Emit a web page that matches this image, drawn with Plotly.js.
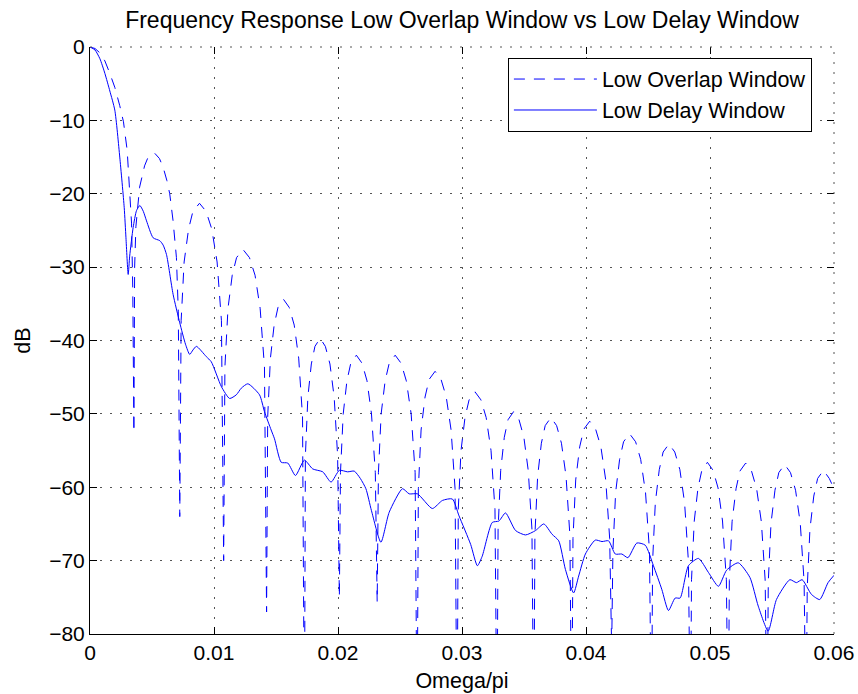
<!DOCTYPE html>
<html>
<head>
<meta charset="utf-8">
<script src="https://cdn.plot.ly/plotly-3.0.1.min.js"></script>
<style>html,body{margin:0;padding:0;background:#fff;}#chart{width:858px;height:694px;}</style>
</head>
<body>
<div id="chart"></div>
<script>
// ---- data ----
const chartTitle = "Frequency Response Low Overlap Window vs Low Delay Window";
const xAxisTitle = "Omega/pi";
const yAxisTitle = "dB";
const seriesNames = ["Low Overlap Window", "Low Delay Window"];
const xTickVals = [0, 0.01, 0.02, 0.03, 0.04, 0.05, 0.06];
const yTickVals = [0, -10, -20, -30, -40, -50, -60, -70, -80];

// Low Overlap Window (dashed)
const overlapX = [
  0, 0.0004, 0.0008, 0.0012, 0.0016, 0.0020, 0.0024, 0.0027, 0.0030, 0.0032, 0.00335, 0.00345, 0.00354,
  0.00360, 0.00370, 0.00400, 0.00440, 0.00469, 0.00523, 0.00560, 0.00590, 0.00620, 0.00643, 0.00670, 0.00697, 0.00712, 0.00724,
  0.00735, 0.00759, 0.00795, 0.00830, 0.00883, 0.00936, 0.00982, 0.01025, 0.01060, 0.01078,
  0.01088, 0.01113, 0.01147, 0.01182, 0.01234, 0.01286, 0.01331, 0.01372, 0.01407, 0.01424,
  0.01433, 0.01455, 0.01485, 0.01516, 0.01561, 0.01607, 0.01647, 0.01683, 0.01714, 0.01729,
  0.01737, 0.01757, 0.01785, 0.01814, 0.01856, 0.01898, 0.01935, 0.01969, 0.01997, 0.02011,
  0.02020, 0.02042, 0.02072, 0.02103, 0.02148, 0.02194, 0.02234, 0.02270, 0.02301, 0.02316,
  0.02326, 0.02348, 0.02380, 0.02413, 0.02461, 0.02509, 0.02551, 0.02590, 0.02622, 0.02638,
  0.02648, 0.02670, 0.02702, 0.02735, 0.02783, 0.02831, 0.02873, 0.02912, 0.02944, 0.02960,
  0.02970, 0.02992, 0.03024, 0.03057, 0.03105, 0.03153, 0.03195, 0.03234, 0.03266, 0.03282,
  0.03291, 0.03312, 0.03341, 0.03371, 0.03416, 0.03460, 0.03499, 0.03534, 0.03564, 0.03579,
  0.03588, 0.03610, 0.03640, 0.03671, 0.03717, 0.03763, 0.03802, 0.03839, 0.03870, 0.03885,
  0.03895, 0.03917, 0.03949, 0.03982, 0.04030, 0.04078, 0.04120, 0.04159, 0.04191, 0.04207,
  0.04217, 0.04239, 0.04271, 0.04303, 0.04351, 0.04400, 0.04441, 0.04480, 0.04512, 0.04528,
  0.04537, 0.04559, 0.04591, 0.04622, 0.04669, 0.04716, 0.04757, 0.04795, 0.04826, 0.04842,
  0.04851, 0.04873, 0.04903, 0.04934, 0.04979, 0.05025, 0.05065, 0.05101, 0.05132, 0.05147,
  0.05156, 0.05178, 0.05210, 0.05241, 0.05288, 0.05335, 0.05376, 0.05414, 0.05445, 0.05461,
  0.05470, 0.05492, 0.05524, 0.05555, 0.05602, 0.05649, 0.05690, 0.05728, 0.05759, 0.05775,
  0.05784, 0.05806, 0.05837, 0.05868, 0.05915, 0.05962, 0.06000
];
const overlapY = [
  0, -0.2, -0.8, -1.9, -3.6, -5.5, -8.0, -10.2, -14.1, -20, -24, -33, -52.5,
  -30, -24.5, -19.1, -16.2, -15.0, -14.5, -15.2, -16.4, -18.2, -20, -23.7, -28.7, -36, -64,
  -37.3, -29.3, -24.8, -22.4, -21.3, -22.4, -24.8, -29.3, -37.3, -70,
  -43.6, -35.6, -31.1, -28.7, -27.6, -28.7, -31.1, -35.6, -43.6, -77,
  -50.4, -42.4, -37.9, -35.5, -34.4, -35.5, -37.9, -42.4, -50.4, -95,
  -55.7, -47.7, -43.2, -40.8, -39.7, -40.8, -43.2, -47.7, -55.7, -75,
  -58, -50, -45.5, -43.1, -42, -43.1, -45.5, -50, -58, -75.7,
  -58, -50, -45.5, -43.1, -42, -43.1, -45.5, -50, -58, -95,
  -60.2, -52.2, -47.7, -45.3, -44.2, -45.3, -47.7, -52.2, -60.2, -95,
  -63, -55, -50.5, -48.1, -47, -48.1, -50.5, -55, -63, -95,
  -65.7, -57.7, -53.2, -50.8, -49.7, -50.8, -53.2, -57.7, -65.7, -95,
  -66.5, -58.5, -54, -51.6, -50.5, -51.6, -54, -58.5, -66.5, -95,
  -67, -59, -54.5, -52.1, -51, -52.1, -54.5, -59, -67, -82,
  -68.7, -60.7, -56.2, -53.8, -52.7, -53.8, -56.2, -60.7, -68.7, -95,
  -70.1, -62.1, -57.6, -55.2, -54.1, -55.2, -57.6, -62.1, -70.1, -95,
  -72.6, -64.6, -60.1, -57.7, -56.6, -57.7, -60.1, -64.6, -72.6, -95,
  -72.7, -64.7, -60.2, -57.8, -56.7, -57.8, -60.2, -64.7, -72.7, -95,
  -72.9, -64.9, -60.4, -58, -56.9, -58, -60.4, -64.9, -72.9, -95,
  -73.7, -65.7, -61.2, -58.8, -57.7, -58.8, -60.2
];

// Low Delay Window (solid)
const delayX = [
  0, 0.0004, 0.0008, 0.0012, 0.0016, 0.0020, 0.0024, 0.00276, 0.0029, 0.00308, 0.0032, 0.00348, 0.00375,
  0.00402, 0.0043, 0.00456, 0.00509, 0.00563, 0.0059, 0.00617, 0.0067, 0.00724, 0.0077, 0.00804, 0.0083,
  0.00858, 0.00938, 0.00978, 0.0106, 0.01126, 0.0118, 0.0122, 0.01273, 0.01367, 0.01407, 0.01461, 0.01488,
  0.01542, 0.01595, 0.01657, 0.01729, 0.01796, 0.01877, 0.01944, 0.02011, 0.02078, 0.02131, 0.0218, 0.02225,
  0.0227, 0.02346, 0.02413, 0.0252, 0.02574, 0.02641, 0.02761, 0.02842, 0.02922, 0.02976, 0.0307, 0.03124,
  0.03163, 0.03244, 0.03298, 0.03351, 0.03432, 0.03512, 0.03593, 0.0366, 0.03726, 0.0378, 0.03834, 0.039,
  0.03941, 0.03995, 0.04075, 0.04129, 0.04182, 0.04236, 0.04289, 0.04338, 0.0441, 0.04478, 0.04544, 0.04611,
  0.04665, 0.04719, 0.04759, 0.04826, 0.04907, 0.04987, 0.05068, 0.05134, 0.05228, 0.05322, 0.05389, 0.05469,
  0.05536, 0.05644, 0.05697, 0.05743, 0.05818, 0.05885, 0.05952, 0.06
];
const delayY = [
  0, -0.4, -1.6, -3.6, -6.0, -8.6, -15.0, -21.9, -26, -31, -28.5, -24.6, -22.3,
  -21.6, -22.4, -23.7, -26.0, -26.4, -27.0, -28.3, -33.7, -37.6, -40.5, -41.9, -41.3,
  -40.8, -42.2, -42.9, -46.3, -47.9, -47.4, -46.5, -45.9, -47.4, -49.7, -52.2, -53.4,
  -56.6, -56.7, -58.4, -56.3, -57.5, -57.9, -59.3, -57.7, -57.9, -57.8, -58.8, -60.2,
  -63.2, -67.5, -63.4, -60.2, -60.9, -60.9, -62.9, -61.8, -61.6, -63.9, -67.8, -70.7,
  -69.4, -64.8, -64.6, -63.5, -65.9, -66.5, -65.9, -65.0, -66.4, -67.3, -71.2, -74.4,
  -72.1, -69.1, -67.2, -67.4, -67.3, -69.1, -69.1, -69.6, -67.6, -67.9, -70.7, -73.9,
  -76.8, -75.1, -75.1, -70.7, -69.7, -71.6, -73.5, -71.3, -70.3, -72.3, -76.2, -79.6,
  -75.3, -72.6, -73.0, -72.6, -74.6, -75.3, -73.0, -72.0
];

// ---- chart ----
const FONT = "Liberation Sans, Arial, Helvetica, sans-serif";
const BLUE = "#0000ff";
const GRID_DASH = "2px,8px";
const GRID_COLOR = "#555";

const traces = [
  {
    x: overlapX, y: overlapY, name: seriesNames[0], type: "scatter", mode: "lines",
    line: {color: BLUE, width: 1, dash: "11px,9px", shape: "linear"}
  },
  {
    x: delayX, y: delayY, name: seriesNames[1], type: "scatter", mode: "lines",
    line: {color: BLUE, width: 1, shape: "spline", smoothing: 0.6}
  },
  {
    x: [], y: [], xaxis: "x2", yaxis: "y2", showlegend: false, hoverinfo: "skip", type: "scatter", mode: "lines"
  }
];

const layout = {
  width: 858, height: 694,
  margin: {l: 89.5, r: 23.5, t: 47, b: 59.5, pad: 0},
  paper_bgcolor: "#fff", plot_bgcolor: "#fff",
  font: {family: FONT, color: "#000", size: 21},
  showlegend: true,
  title: {text: chartTitle, font: {family: FONT, size: 23, color: "#000"},
          x: 0.5, xref: "paper", xanchor: "center", y: 0.971, yanchor: "middle"},
  xaxis: {
    range: [0, 0.06], tickvals: xTickVals, ticktext: xTickVals.map(String),
    showline: true, linecolor: "#000", linewidth: 1, mirror: false,
    ticks: "inside", ticklen: 7, tickcolor: "#000", tickwidth: 1,
    showgrid: true, gridcolor: GRID_COLOR, griddash: GRID_DASH, gridwidth: 1,
    zeroline: false, tickfont: {family: FONT, size: 21, color: "#000"},
    title: {text: xAxisTitle, font: {family: FONT, size: 21.5, color: "#000"}, standoff: 9},
    automargin: false
  },
  yaxis: {
    range: [-80, 0], tickvals: yTickVals,
    showline: true, linecolor: "#000", linewidth: 1, mirror: false,
    ticks: "inside", ticklen: 7, tickcolor: "#000", tickwidth: 1,
    showgrid: true, gridcolor: GRID_COLOR, griddash: GRID_DASH, gridwidth: 1,
    zeroline: false, tickfont: {family: FONT, size: 21, color: "#000"},
    title: {text: yAxisTitle, font: {family: FONT, size: 21.5, color: "#000"}, standoff: 12},
    automargin: false
  },
  xaxis2: {
    overlaying: "x", side: "top", range: [0, 0.06], tickvals: xTickVals,
    showticklabels: false, ticks: "inside", ticklen: 7, tickcolor: "#000",
    showgrid: false, zeroline: false, showline: false, anchor: "y2"
  },
  yaxis2: {
    overlaying: "y", side: "right", range: [-80, 0], tickvals: yTickVals,
    showticklabels: false, ticks: "inside", ticklen: 7, tickcolor: "#000",
    showgrid: false, zeroline: false, showline: false, anchor: "x2"
  },
  shapes: [
    {type: "line", xref: "paper", yref: "paper", x0: 0, x1: 1, y0: 1, y1: 1,
     line: {color: GRID_COLOR, width: 1, dash: GRID_DASH}},
    {type: "line", xref: "paper", yref: "paper", x0: 1, x1: 1, y0: 0, y1: 1,
     line: {color: GRID_COLOR, width: 1, dash: GRID_DASH}}
  ],
  legend: {
    x: 0.5617, y: 0.982, xanchor: "left", yanchor: "top",
    bgcolor: "#fff", bordercolor: "#000", borderwidth: 1,
    font: {family: FONT, size: 21.5, color: "#000"},
    itemwidth: 83, tracegroupgap: 0
  }
};

Plotly.newPlot("chart", traces, layout, {displayModeBar: false, staticPlot: true});
</script>
</body>
</html>
